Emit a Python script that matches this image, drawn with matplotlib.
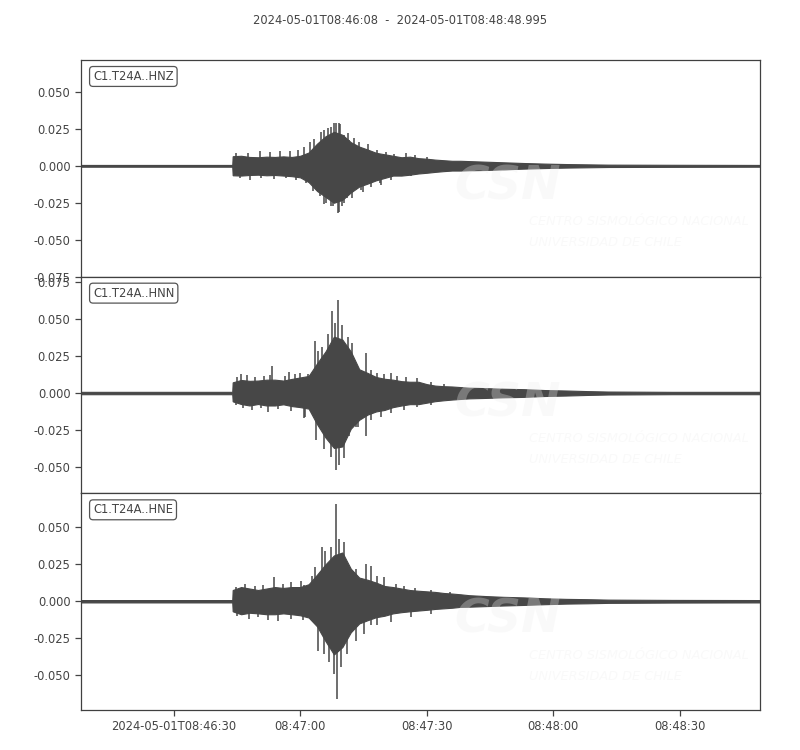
import matplotlib
matplotlib.use("Agg")
import matplotlib.pyplot as plt
import numpy as np

# ---------------- data (seconds after 2024-05-01T08:46:08) ----------------
title_text = "2024-05-01T08:46:08  -  2024-05-01T08:48:48.995"
channels = ["C1.T24A..HNZ", "C1.T24A..HNN", "C1.T24A..HNE"]
duration = 160.995

xtick_sec = [22, 52, 82, 112, 142]
xtick_labels = ["2024-05-01T08:46:30", "08:47:00", "08:47:30", "08:48:00", "08:48:30"]

t_env = [0, 35.9, 36, 38, 40, 42, 44, 46, 48, 50, 52, 54, 56, 58, 60, 62, 64, 66,
         68, 70, 72, 74, 76, 78, 80, 82, 84, 86, 88, 90, 92,
         96, 100, 105, 110, 115, 120, 125, 140, 161]

# body envelope of each trace
z_upper = [0.0006, 0.0006, 0.0065, 0.0068, 0.006, 0.0058, 0.0062, 0.006, 0.0064, 0.006,
           0.0068, 0.009, 0.015, 0.02, 0.023, 0.021, 0.016, 0.013, 0.011, 0.0088, 0.0078,
           0.0068, 0.0058, 0.0062, 0.0052, 0.0048, 0.0042, 0.0038, 0.0034, 0.0034, 0.0032,
           0.0028, 0.0024, 0.0019, 0.0015, 0.0012, 0.001, 0.0008, 0.0007, 0.0006]
z_lower = [-0.0006, -0.0006, -0.0064, -0.0066, -0.0062, -0.006, -0.0064, -0.0062, -0.0066,
           -0.007, -0.0078, -0.011, -0.017, -0.021, -0.025, -0.023, -0.018, -0.014, -0.012,
           -0.0098, -0.0082, -0.0066, -0.0066, -0.006, -0.0052, -0.0047, -0.0041, -0.0036,
           -0.0032, -0.0032, -0.003, -0.0028, -0.0024, -0.0019, -0.0015, -0.0012, -0.001,
           -0.0008, -0.0007, -0.0006]

n_upper = [0.0008, 0.0008, 0.0072, 0.0088, 0.0082, 0.0084, 0.009, 0.009, 0.0084, 0.0095,
           0.0105, 0.0115, 0.02, 0.028, 0.038, 0.036, 0.028, 0.016, 0.0135, 0.0108, 0.0096,
           0.009, 0.008, 0.0076, 0.0076, 0.006, 0.005, 0.0046, 0.0044, 0.004, 0.0036,
           0.0033, 0.0029, 0.0026, 0.002, 0.0017, 0.0013, 0.001, 0.0008, 0.0008]
n_lower = [-0.0008, -0.0008, -0.0056, -0.0074, -0.0084, -0.0074, -0.0084, -0.0084, -0.0076,
           -0.0088, -0.0095, -0.0105, -0.021, -0.03, -0.037, -0.036, -0.024, -0.018, -0.0145,
           -0.0124, -0.0114, -0.0095, -0.0084, -0.0075, -0.0075, -0.0065, -0.0055, -0.0049,
           -0.0044, -0.004, -0.0036, -0.0033, -0.0029, -0.0026, -0.002, -0.0017, -0.0013,
           -0.001, -0.0008, -0.0008]

e_upper = [0.0008, 0.0008, 0.0076, 0.0096, 0.0086, 0.0076, 0.0086, 0.0096, 0.009, 0.0096,
           0.0096, 0.0115, 0.018, 0.025, 0.031, 0.033, 0.022, 0.016, 0.0145, 0.0126,
           0.0103, 0.0096, 0.0086, 0.0076, 0.0071, 0.0067, 0.0063, 0.0056, 0.0052, 0.0047,
           0.0041, 0.0035, 0.003, 0.0026, 0.002, 0.0016, 0.0014, 0.0011, 0.0009, 0.0008]
e_lower = [-0.0008, -0.0008, -0.0068, -0.0088, -0.0078, -0.0082, -0.0088, -0.0088, -0.0082,
           -0.0088, -0.0095, -0.011, -0.017, -0.027, -0.036, -0.031, -0.021, -0.015,
           -0.0128, -0.0108, -0.0098, -0.0082, -0.0074, -0.0068, -0.0063, -0.0058, -0.0052,
           -0.0048, -0.0044, -0.0038, -0.0037, -0.0033, -0.0029, -0.0025, -0.002, -0.0016,
           -0.0014, -0.0011, -0.0009, -0.0008]

# individual peaks sticking out of the body (time, amplitude)
z_spike_t = [36.9, 39.7, 42.4, 44.8, 47.1, 49.5, 51.4, 53.0, 54.4, 55.2, 56.9, 57.7, 58.7,
             59.2, 60.0, 60.5, 61.3, 61.5, 62.5, 63.4, 63.6, 64.8, 66.0, 68.1, 70.3, 72.3,
             74.2, 77.0, 79.3, 82.0,
             37.7, 40.0, 42.8, 45.9, 48.7, 51.1, 53.4, 55.0, 56.6, 57.7, 58.2, 59.3, 59.7,
             60.9, 61.1, 62.0, 62.5, 63.2, 64.4, 66.4, 66.8, 68.7, 70.9, 71.1, 73.5, 78.2]
z_spike_v = [0.009, 0.0085, 0.010, 0.0092, 0.0097, 0.010, 0.0108, 0.013, 0.016, 0.018,
             0.023, 0.024, 0.0254, 0.026, 0.0288, 0.029, 0.0288, 0.028, 0.021, 0.022, 0.0175,
             0.019, 0.016, 0.0146, 0.0108, 0.0092, 0.0079, 0.0085, 0.0074, 0.0063,
             -0.0083, -0.0095, -0.0079, -0.0088, -0.0083, -0.0095, -0.0117, -0.0173, -0.0207,
             -0.026, -0.025, -0.0275, -0.0275, -0.032, -0.0315, -0.0275, -0.025, -0.022,
             -0.022, -0.0164, -0.018, -0.014, -0.0117, -0.0128, -0.0095, -0.0072]

n_spike_t = [37.1, 37.9, 39.5, 41.4, 43.4, 44.9, 45.3, 48.5, 49.3, 50.8, 52.0, 53.8, 54.5,
             55.5, 56.3, 57.1, 58.7, 59.5, 60.3, 61.0, 61.8, 63.4, 64.4, 67.6, 68.8, 70.3,
             71.9, 73.5, 75.0, 77.0, 79.7, 82.9, 86.0,
             36.9, 38.5, 40.5, 42.8, 44.4, 46.7, 49.9, 53.0, 53.2, 55.8, 57.7, 59.3, 60.5,
             61.3, 62.5, 63.6, 65.2, 65.6, 67.6, 68.8, 71.1, 73.5, 76.6, 79.7, 82.9]
n_spike_v = [0.0106, 0.013, 0.012, 0.0106, 0.0115, 0.012, 0.018, 0.0115, 0.0144, 0.013,
             0.0137, 0.0128, 0.013, 0.035, 0.028, 0.031, 0.040, 0.0556, 0.047, 0.063, 0.046,
             0.0376, 0.0335, 0.027, 0.0155, 0.0137, 0.013, 0.0137, 0.0115, 0.0106, 0.0099,
             0.0077, 0.006,
             -0.0081, -0.0104, -0.0115, -0.0104, -0.0126, -0.011, -0.012, -0.017, -0.016,
             -0.0317, -0.038, -0.043, -0.052, -0.0486, -0.044, -0.029, -0.023, -0.023,
             -0.029, -0.018, -0.016, -0.0137, -0.0115, -0.0097, -0.0081]

e_spike_t = [36.9, 38.9, 41.2, 43.2, 45.9, 47.9, 49.9, 52.1, 53.0, 54.8, 55.5, 57.1, 57.9,
             59.2, 60.6, 61.3, 62.3, 65.2, 67.6, 68.8, 70.3, 71.9, 74.6, 76.6, 79.3, 82.9,
             87.6,
             37.1, 39.9, 41.9, 44.4, 46.7, 49.9, 52.6, 56.2, 57.7, 58.9, 60.1, 60.7, 61.7,
             63.2, 65.2, 67.2, 68.8, 70.3, 73.5, 78.2, 82.9]
e_spike_v = [0.0099, 0.012, 0.0106, 0.0113, 0.0167, 0.0117, 0.0128, 0.014, 0.0113, 0.0173,
             0.023, 0.037, 0.034, 0.0365, 0.066, 0.042, 0.040, 0.022, 0.025, 0.024, 0.0173,
             0.0162, 0.012, 0.0106, 0.009, 0.0077, 0.006,
             -0.0097, -0.012, -0.0108, -0.013, -0.0135, -0.012, -0.0126, -0.034, -0.0355,
             -0.041, -0.049, -0.066, -0.0445, -0.0355, -0.0266, -0.022, -0.0164, -0.0164,
             -0.0142, -0.0108, -0.0086]

y_limits = [(-0.075, 0.0716), (-0.0676, 0.0784), (-0.0736, 0.073)]
yticks = [[-0.075, -0.05, -0.025, 0.0, 0.025, 0.05],
          [-0.05, -0.025, 0.0, 0.025, 0.05, 0.075],
          [-0.05, -0.025, 0.0, 0.025, 0.05]]

uppers = [z_upper, n_upper, e_upper]
lowers = [z_lower, n_lower, e_lower]
spike_ts = [z_spike_t, n_spike_t, e_spike_t]
spike_vs = [z_spike_v, n_spike_v, e_spike_v]

# ---------------- drawing ----------------
trace_c = "#474747"
text_c = "#444444"
plt.rcParams["font.family"] = ["DejaVu Sans"]

fig = plt.figure(figsize=(8, 7.5), dpi=100)
fig.subplots_adjust(left=0.101, right=0.95, top=0.92, bottom=0.0533, hspace=0)
axes = fig.subplots(3, 1, sharex=True)

for i, ax in enumerate(axes):
    t = np.array(t_env)
    ax.fill_between(t, lowers[i], uppers[i], color=trace_c, linewidth=0.8,
                    edgecolor=trace_c, joinstyle="miter", zorder=2)
    ax.vlines(spike_ts[i], 0, spike_vs[i], color=trace_c, linewidth=1.1, zorder=2)
    ax.set_xlim(0, duration)
    ax.set_ylim(*y_limits[i])
    ax.set_yticks(yticks[i])
    ax.set_yticklabels(["%.3f" % v for v in yticks[i]])
    ax.tick_params(axis="both", direction="out", length=4, width=0.9,
                   colors=text_c, labelsize=8.3, labelcolor=text_c)
    for s in ax.spines.values():
        s.set_color("#404040")
        s.set_linewidth(0.9)
    ax.text(0.018, 0.954, channels[i], transform=ax.transAxes, ha="left", va="top",
            fontsize=8.3, color=text_c, zorder=5,
            bbox=dict(boxstyle="round,pad=0.3", fc="white", ec="#555555", lw=0.9))
    # faint CSN watermark
    wm = dict(transform=ax.transAxes, color=(0.93, 0.93, 0.93), alpha=0.3, zorder=4,
              style="italic", clip_on=True)
    ax.text(0.55, 0.31, "CSN", fontsize=34, fontweight="bold", ha="left", va="bottom", **wm)
    ax.text(0.66, 0.253, "CENTRO SISMOLÓGICO NACIONAL", fontsize=9.3, ha="left",
            va="center", **wm)
    ax.text(0.66, 0.157, "UNIVERSIDAD DE CHILE", fontsize=9.3, ha="left", va="center", **wm)
    if i < 2:
        ax.tick_params(axis="x", bottom=False, labelbottom=False)

axes[-1].set_xticks(xtick_sec)
axes[-1].set_xticklabels(xtick_labels)

fig.text(0.5, 0.973, title_text, ha="center", va="center", fontsize=8.3, color=text_c)

fig.savefig("out.png", dpi=100)
